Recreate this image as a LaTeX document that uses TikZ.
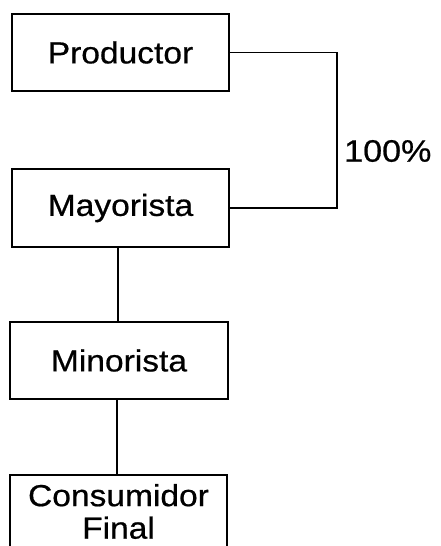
\documentclass[tikz,border=0pt]{standalone}
\usepackage{fontspec}
\newfontfamily\labfont[FakeStretch=1.1,FakeBold=0.6]{Liberation Sans}
\begin{document}
\begin{tikzpicture}[x=1pt,y=1pt,
  box/.style={draw=black, line width=1.8pt, minimum width=217pt, minimum height=77pt, inner sep=0pt,
    font=\labfont\fontsize{30.5}{34}\selectfont, align=center},
  conn/.style={draw=black, line width=1.6pt},
  lbl/.style={font=\labfont\fontsize{31}{34}\selectfont, inner sep=0pt}]
\useasboundingbox (0,0) rectangle (441,-546);
\begin{scope}
\clip (0,0) rectangle (441,-546);
\node[box] (prod) at (120.5,-52.5) {Productor};
\node[box, minimum height=78pt] (may) at (120.5,-208) {Mayorista};
\node[box, minimum width=218pt] (min) at (119,-360.5) {Minorista};
\node[box, minimum height=73pt, font=\labfont\fontsize{30.5}{32.5}\selectfont] (cons) at (118.5,-511.5) {Consumidor\\Final};
\coordinate (c1) at (337,-52.5);
\coordinate (c2) at (337,-208);
\draw[conn] (prod.east) -- (c1) -- (c2) -- (may.east);
\node[lbl, anchor=west] (pct) at (344,-151) {100\%};
\draw[conn] (min.north -| 118,0) -- (may.south -| 118,0);
\draw[conn] (cons.north -| 117,0) -- (min.south -| 117,0);
\end{scope}
\end{tikzpicture}
\end{document}
